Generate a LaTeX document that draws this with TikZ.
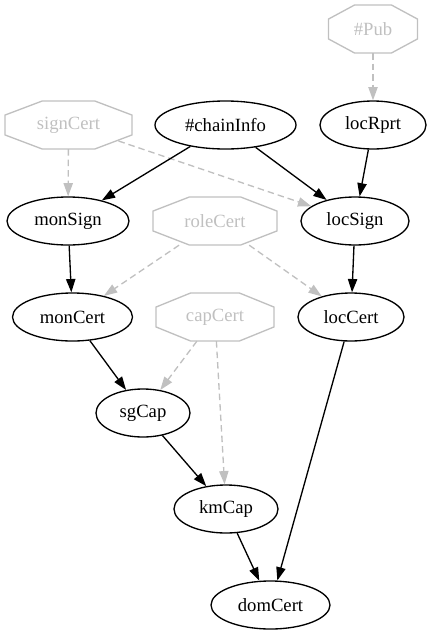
\documentclass[tikz,border=0pt]{standalone}
\usepackage{fontspec}
\setmainfont{Liberation Serif}
\usetikzlibrary{shapes.geometric,arrows.meta,calc}
\definecolor{gvgray}{HTML}{C0C0C0}
\tikzset{
  ell/.style={ellipse, draw=black, line width=1.33pt, minimum height=48, inner sep=0pt, font=\fontsize{18.67}{22}\selectfont},
  octtext/.style={rectangle, draw=none, inner sep=0pt, minimum height=48, text=gvgray, font=\fontsize{18.67}{22}\selectfont},
  octline/.style={draw=gvgray, line width=1.33pt, line join=miter},
  solidedge/.style={draw=black, line width=1.33pt, -{Triangle[length=13.3pt,width=9.3pt]}},
  grayedge/.style={draw=gvgray, line width=1.33pt, dash pattern=on 6.5pt off 4pt, -{Triangle[length=13.3pt,width=9.3pt,fill=gvgray]}},
}
\newcommand\octnode[5]{%
  \node[octtext, minimum width={2*#4}] (#1) at (#2,#3) {#5};
  \draw[octline] (#2+#4,#3-9.94) -- (#2+#4,#3+9.94) -- (#2+0.414*#4,#3+24) -- (#2-0.414*#4,#3+24)
     -- (#2-#4,#3+9.94) -- (#2-#4,#3-9.94) -- (#2-0.414*#4,#3-24) -- (#2+0.414*#4,#3-24) -- cycle;
}
\begin{document}
\begin{tikzpicture}[x=1pt,y=-1pt]
\useasboundingbox (0,0) rectangle (432,635);
% octagon nodes
\octnode{pub}{373}{29}{44.5}{\#Pub}
\octnode{signCert}{68.5}{125}{63.5}{signCert}
\octnode{roleCert}{215}{221}{62}{roleCert}
\octnode{capCert}{215}{317}{59}{capCert}
% ellipse nodes
\node[ell, minimum width=141] (chainInfo) at (225.5,125) {\#chainInfo};
\node[ell, minimum width=106] (locRprt) at (373,125) {locRprt};
\node[ell, minimum width=122] (monSign) at (68,221) {monSign};
\node[ell, minimum width=108] (locSign) at (355,221) {locSign};
\node[ell, minimum width=120] (monCert) at (72.5,317) {monCert};
\node[ell, minimum width=106] (locCert) at (351,317) {locCert};
\node[ell, minimum width=94] (sgCap) at (143,413) {sgCap};
\node[ell, minimum width=104] (kmCap) at (226,509) {kmCap};
\node[ell, minimum width=119] (domCert) at (270.5,605) {domCert};
\coordinate (signCertOut) at ($(signCert.center)+(50,16)$);
% gray dashed edges
\draw[grayedge] (pub) -- (locRprt);
\draw[grayedge] (signCert) -- (monSign);
\draw[grayedge] (signCertOut) -- (locSign);
\draw[grayedge] (roleCert) -- (monCert);
\draw[grayedge] (roleCert) -- (locCert);
\draw[grayedge] (capCert) -- (sgCap);
\draw[grayedge] (capCert) -- (kmCap);
% black edges
\draw[solidedge] (chainInfo) -- (monSign);
\draw[solidedge] (chainInfo) -- (locSign);
\draw[solidedge] (locRprt) -- (locSign);
\draw[solidedge] (monSign) -- (monCert);
\draw[solidedge] (locSign) -- (locCert);
\draw[solidedge] (monCert) -- (sgCap);
\draw[solidedge] (sgCap) -- (kmCap);
\draw[solidedge] (kmCap) -- (domCert);
\draw[solidedge] (locCert) -- (domCert);
\end{tikzpicture}
\end{document}
